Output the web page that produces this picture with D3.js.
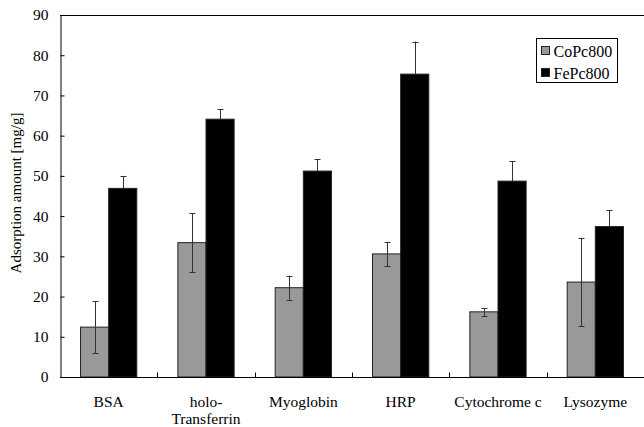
<!DOCTYPE html>
<html>
<head>
<meta charset="utf-8">
<script src="https://cdn.jsdelivr.net/npm/d3@7"></script>
<style>
  body { margin: 0; background: #fff; }
  svg text { font-family: "Times New Roman", Times, "Liberation Serif", serif; fill: #000; }
</style>
</head>
<body>
<div id="chart"></div>
<script>
// proteins on the x axis
const categories = ["BSA", "holo-Transferrin", "Myoglobin", "HRP", "Cytochrome c", "Lysozyme"];
const seriesNames = ["CoPc800", "FePc800"];
// mean adsorption amount [mg/g]
const coValues = [12.4, 33.4, 22.2, 30.6, 16.2, 23.6];
const feValues = [46.9, 64.1, 51.2, 75.3, 48.7, 37.4];
// error bar half widths
const coErrors = [6.5, 7.3, 3.0, 3.0, 1.0, 11.0];
const feErrors = [3.1, 2.5, 3.0, 8.1, 5.0, 4.0];
const yTicks = [0, 10, 20, 30, 40, 50, 60, 70, 80, 90];

const W = 644, H = 427;
const margin = {top: 15, left: 60, right: 0, bottom: 50};
const colors = {CoPc800: "#999999", FePc800: "#000000"};
const serif = '"Times New Roman", Times, "Liberation Serif", serif';

const svg = d3.select("#chart").append("svg")
    .attr("width", W).attr("height", H);

const x0 = d3.scaleBand()
    .domain(categories)
    .range([margin.left, W - margin.right])
    .paddingInner(0).paddingOuter(0);

const x1 = d3.scaleBand()
    .domain(seriesNames)
    .range([0, x0.bandwidth()])
    .paddingInner(0)
    .paddingOuter(0.73);

const y = d3.scaleLinear()
    .domain([0, 90])
    .range([H - margin.bottom, margin.top]);

// build rows from the arrays
const rows = [];
categories.forEach((c, i) => {
    rows.push({cat: c, series: "CoPc800", value: coValues[i], err: coErrors[i]});
    rows.push({cat: c, series: "FePc800", value: feValues[i], err: feErrors[i]});
});

// top frame line
svg.append("line")
    .attr("x1", margin.left).attr("x2", W)
    .attr("y1", y(90) + 0.5).attr("y2", y(90) + 0.5)
    .attr("stroke", "#000");

// bars
svg.append("g").selectAll("rect")
    .data(rows)
    .join("rect")
    .attr("x", d => x0(d.cat) + x1(d.series))
    .attr("y", d => y(d.value))
    .attr("width", x1.bandwidth())
    .attr("height", d => y(0) - y(d.value))
    .attr("fill", d => colors[d.series])
    .attr("stroke", "#222")
    .attr("stroke-width", 1);

// error bars (lower half of black bars is hidden inside the bar)
const eb = svg.append("g").selectAll("g")
    .data(rows)
    .join("g")
    .attr("transform", d => `translate(${Math.round(x0(d.cat) + x1(d.series) + x1.bandwidth() / 2) + 0.5},0)`);

const lowOf = d => d.series === "FePc800" ? d.value : Math.max(0, d.value - d.err);
eb.append("line")
    .attr("y1", d => y(d.value + d.err))
    .attr("y2", d => y(lowOf(d)))
    .attr("stroke", "#333").attr("stroke-width", 1);
eb.append("line")
    .attr("x1", -3).attr("x2", 3)
    .attr("y1", d => Math.round(y(d.value + d.err)) + 0.5)
    .attr("y2", d => Math.round(y(d.value + d.err)) + 0.5)
    .attr("stroke", "#333");
eb.filter(d => d.series === "CoPc800").append("line")
    .attr("x1", -3).attr("x2", 3)
    .attr("y1", d => Math.round(y(lowOf(d))) + 0.5)
    .attr("y2", d => Math.round(y(lowOf(d))) + 0.5)
    .attr("stroke", "#333");

// y axis
const yAxis = svg.append("g")
    .attr("transform", `translate(${margin.left + 0.5},0)`)
    .call(d3.axisLeft(y).tickValues(yTicks).tickSizeInner(-4).tickSizeOuter(0).tickPadding(12));
yAxis.select(".domain").attr("stroke", "#000");
yAxis.selectAll("text").style("font-size", "15.5px").style("font-family", serif);

// x axis with ticks between groups
const xAxisG = svg.append("g")
    .attr("transform", `translate(0,${y(0) + 0.5})`);
xAxisG.append("line")
    .attr("x1", margin.left).attr("x2", W)
    .attr("stroke", "#000");
xAxisG.selectAll(".sep")
    .data(categories.slice(1))
    .join("line")
    .attr("class", "sep")
    .attr("x1", d => Math.round(x0(d)) + 0.5).attr("x2", d => Math.round(x0(d)) + 0.5)
    .attr("y1", 0).attr("y2", -5)
    .attr("stroke", "#000");

const labels = xAxisG.selectAll(".lab")
    .data(categories)
    .join("text")
    .attr("class", "lab")
    .attr("text-anchor", "middle")
    .attr("x", d => x0(d) + x0.bandwidth() / 2)
    .attr("y", 29)
    .style("font-size", "15.5px");
labels.each(function(d) {
    const parts = d === "holo-Transferrin" ? ["holo-", "Transferrin"] : [d];
    d3.select(this).selectAll("tspan")
        .data(parts)
        .join("tspan")
        .attr("x", x0(d) + x0.bandwidth() / 2)
        .attr("dy", (p, i) => i === 0 ? 0 : 17)
        .text(p => p);
});

// y axis title
svg.append("text")
    .attr("transform", `translate(21,193) rotate(-90)`)
    .attr("text-anchor", "middle")
    .style("font-size", "15px")
    .text("Adsorption amount [mg/g]");

// legend
const lg = svg.append("g").attr("transform", "translate(536.5,38.5)");
lg.append("rect")
    .attr("width", 81).attr("height", 44)
    .attr("fill", "#fff").attr("stroke", "#000");
seriesNames.forEach((s, i) => {
    lg.append("rect")
        .attr("x", 5).attr("y", 8 + i * 22)
        .attr("width", 8).attr("height", 8)
        .attr("fill", colors[s]).attr("stroke", "#222");
    lg.append("text")
        .attr("x", 17).attr("y", 18 + i * 22)
        .style("font-size", "16px")
        .text(s);
});
</script>
</body>
</html>
